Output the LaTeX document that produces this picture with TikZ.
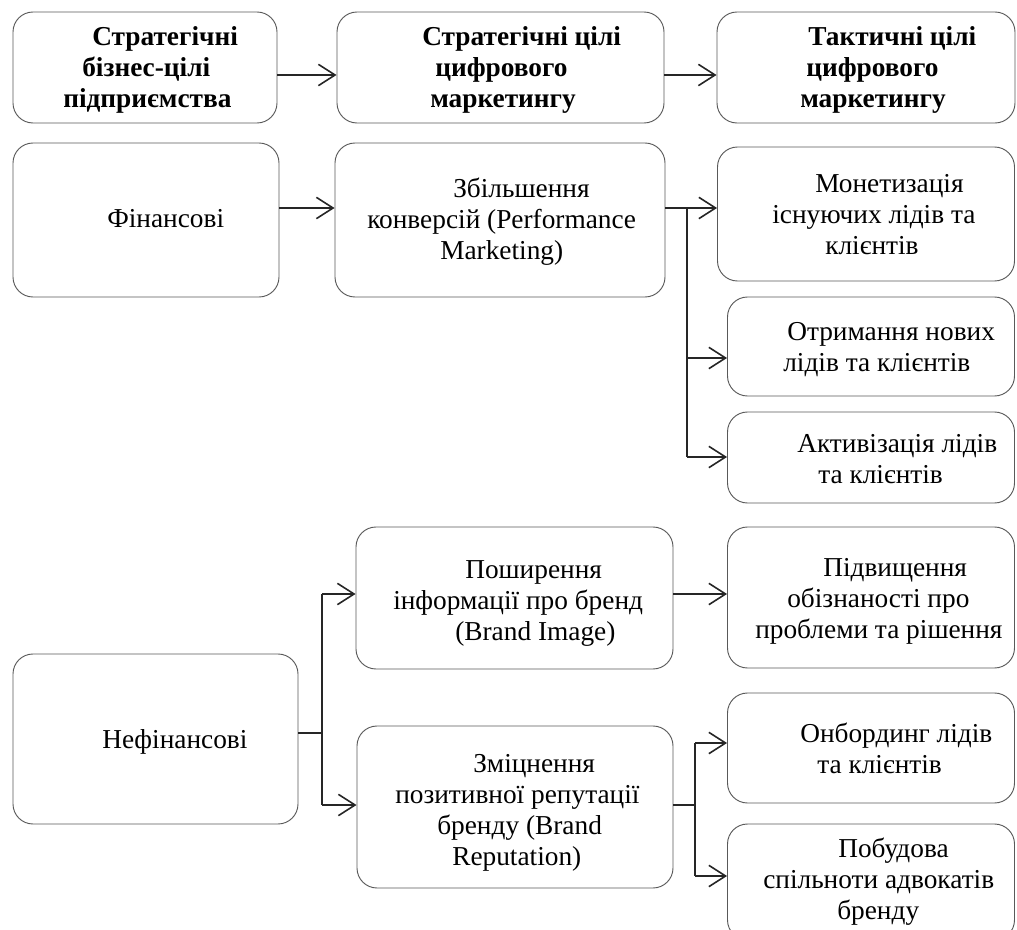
\documentclass[tikz,border=0pt]{standalone}
\usepackage{fontspec}
\setmainfont{Liberation Serif}
\usetikzlibrary{arrows.meta}
\tikzset{
  box/.style n args={2}{draw=black!65, line width=0.7pt, rounded corners=15pt, rectangle,
    minimum width=#1*0.75pt, minimum height=#2*0.75pt, inner sep=0pt},
  txt/.style={anchor=base west, inner sep=0pt, align=left,
    font=\fontsize{20.5pt}{23.25pt}\selectfont},
  btxt/.style={txt, font=\fontsize{20.5pt}{23.25pt}\selectfont\bfseries},
  conn/.style={draw=black!85, line width=1.5pt},
  arr/.style={conn, -{Straight Barb[length=12.5pt, width=16pt, line width=1.2pt]}}
}
\begin{document}
\begin{tikzpicture}[x=0.75pt, y=-0.75pt]
\useasboundingbox (0,0) rectangle (1017,930);
% boxes
\node[box={264}{111}] (a1) at (145,67.5) {};
\node[box={327}{111}] (a2) at (500.5,67.5) {};
\node[box={298}{111}] (a3) at (866,67.5) {};
\node[box={266}{154}] (b1) at (146,220) {};
\node[box={330}{154}] (b2) at (500,220) {};
\node[box={297}{134}] (c1) at (866,214) {};
\node[box={287}{99}] (c2) at (871,346.5) {};
\node[box={287}{91}] (c3) at (871,457.5) {};
\node[box={285}{170}] (d1) at (155.5,739) {};
\node[box={317}{142}] (e1) at (514.5,598) {};
\node[box={316}{162}] (e2) at (515,807) {};
\node[box={287}{141}] (f1) at (871,597.5) {};
\node[box={287}{110}] (f2) at (871,748) {};
\node[box={287}{116}] (f3) at (871,882) {};
% texts (anchored at the baseline of their last line)
\node[btxt] (a1t) at (63,108) {\hspace*{21.75pt}Стратегічні\\\hspace*{14.25pt}бізнес-цілі\\підприємства};
\node[btxt] (a2t) at (422,108) {Стратегічні цілі\\\hspace*{9.75pt}цифрового\\\hspace*{6pt}маркетингу};
\node[btxt] (a3t) at (800,108) {\hspace*{6pt}Тактичні цілі\\\hspace*{4.5pt}цифрового\\маркетингу};
\node[txt] (b1t) at (107,228) {Фінансові};
\node[txt] (b2t) at (367,260) {\hspace*{64.5pt}Збільшення\\конверсій (Performance\\\hspace*{54.75pt}Marketing)};
\node[txt] (c1t) at (772,255) {\hspace*{32.25pt}Монетизація\\існуючих лідів та\\\hspace*{39.75pt}клієнтів};
\node[txt] (c2t) at (783,372) {\hspace*{3pt}Отримання нових\\лідів та клієнтів};
\node[txt] (c3t) at (797,483) {Активізація лідів\\\hspace*{15.75pt}та клієнтів};
\node[txt] (d1t) at (102,748) {Нефінансові};
\node[txt] (e1t) at (393,640) {\hspace*{54pt}Поширення\\інформації про бренд\\\hspace*{46.5pt}(Brand Image)};
\node[txt] (e2t) at (395,865) {\hspace*{58.5pt}Зміцнення\\позитивної репутації\\\hspace*{31.5pt}бренду (Brand\\\hspace*{42.75pt}Reputation)};
\node[txt] (f1t) at (755,638) {\hspace*{51pt}Підвищення\\\hspace*{24pt}обізнаності про\\проблеми та рішення};
\node[txt] (f2t) at (800,773) {Онбординг лідів\\\hspace*{12.75pt}та клієнтів};
\node[txt] (f3t) at (763,919) {\hspace*{56.25pt}Побудова\\спільноти адвокатів\\\hspace*{55.5pt}бренду};
% junction coordinates
\coordinate (j1) at (687,208);
\coordinate (j2) at (322,733);
\coordinate (j3) at (695,805);
% connectors
\draw[arr] (a1.east |- 0,75) -- (a2.west |- 0,75);
\draw[arr] (a2.east |- 0,75) -- (a3.west |- 0,75);
\draw[arr] (b1.east |- 0,208) -- (b2.west |- 0,208);
\draw[arr] (b2.east |- j1) -- (c1.west |- j1);
\draw[conn] (j1) -- (j1 |- 0,457);
\draw[arr] (j1 |- 0,358) -- (c2.west |- 0,358);
\draw[arr] (j1 |- 0,457) -- (c3.west |- 0,457);
\draw[conn] (d1.east |- j2) -- (j2);
\draw[conn] (j2 |- 0,594) -- (j2 |- 0,805);
\draw[arr] (j2 |- 0,594) -- (e1.west |- 0,594);
\draw[arr] (j2 |- 0,805) -- (e2.west |- 0,805);
\draw[arr] (e1.east |- 0,594) -- (f1.west |- 0,594);
\draw[conn] (e2.east |- j3) -- (j3);
\draw[conn] (j3 |- 0,743) -- (j3 |- 0,876);
\draw[arr] (j3 |- 0,743) -- (f2.west |- 0,743);
\draw[arr] (j3 |- 0,876) -- (f3.west |- 0,876);
\end{tikzpicture}
\end{document}
